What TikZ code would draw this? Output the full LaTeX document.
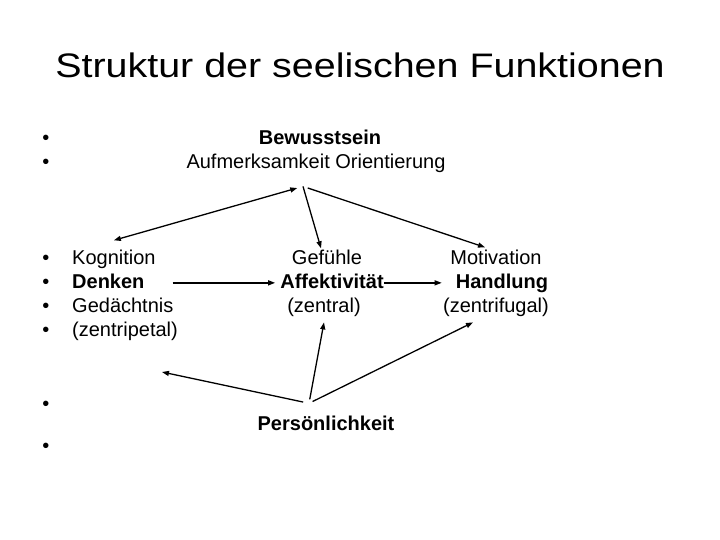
\documentclass[tikz,border=0pt]{standalone}
\usepackage{fontspec}
\setmainfont{Liberation Sans}
\usepackage{graphicx}
\usetikzlibrary{arrows.meta,positioning}
\tikzset{
  zeile/.style={inner sep=0pt, text height=14.5pt, text depth=4.2pt,
                anchor=base, font=\fontsize{20}{24}\selectfont},
  fett/.style={zeile, font=\fontsize{20}{24}\selectfont\bfseries},
  punkt/.style={zeile},
  pfeil/.style={-{Triangle[length=7pt,width=5pt]}, line width=1.3pt},
  doppelpfeil/.style={{Triangle[length=7pt,width=5pt]}-{Triangle[length=7pt,width=5pt]},
                      line width=1.3pt},
}

\begin{document}
\begin{tikzpicture}[x=1pt,y=-1pt]
  \useasboundingbox (0,0) rectangle (720,540);
  \node[anchor=base, inner sep=0pt, font=\fontsize{34}{40}\selectfont] (titel) at (360,78)
        {\scalebox{1.16}[1]{Struktur der seelischen Funktionen}};
  % Aufzaehlungspunkte
  \foreach \y/\n in {145/1,169/2,264/3,288/4,312/5,336/6,410/7,452/8}
    \node[punkt] (p\n) at (46,\y) {•};
  % oben
  \node[fett] (bewusst) at (320,145) {Bewusstsein};
  \node[zeile] (aufm) at (316,169) {Aufmerksamkeit Orientierung};
  % links
  \node[zeile, anchor=base west] (kogn) at (72,264) {Kognition};
  \node[fett, anchor=base west] (denk) at (72,288) {Denken};
  \node[zeile, anchor=base west] (gedae) at (72,312) {Gedächtnis};
  \node[zeile, anchor=base west] (zpetal) at (72,336) {(zentripetal)};
  % mitte
  \node[zeile] (gef) at (327,264) {Gefühle};
  \node[fett] (affekt) at (332,288) {Affektivität};
  \node[zeile] (zentral) at (324,312) {(zentral)};
  % rechts
  \node[zeile] (motiv) at (496,264) {Motivation};
  \node[fett] (handl) at (502,288) {Handlung};
  \node[zeile] (zfugal) at (496,312) {(zentrifugal)};
  % unten
  \node[fett] (pers) at (326,430) {Persönlichkeit};

  \coordinate (oben) at ([xshift=-13pt,yshift=-13pt]aufm.south);
  \coordinate (unten) at ([xshift=-17pt,yshift=12pt]pers.north);
  \coordinate (links) at (162,372);

  \draw[doppelpfeil, shorten <=6pt] (oben) -- ([yshift=9pt]kogn.north);
  \draw[pfeil] (oben) -- ([xshift=-6pt,yshift=1pt]gef.north);
  \draw[pfeil, shorten <=5pt] (oben) -- ([xshift=-11pt,yshift=2pt]motiv.north);
  \draw[pfeil, shorten <=28pt, shorten >=5pt] (denk.east) -- (affekt.west);
  \draw[pfeil, shorten >=14pt] (affekt.east) -- (handl.west);
  \draw[pfeil, shorten <=6pt] (unten) -- (links);
  \draw[pfeil, shorten <=4pt] (unten) -- ([yshift=-6pt]zentral.south);
  \draw[pfeil, shorten <=4pt] (unten) -- ([xshift=-23pt,yshift=-6pt]zfugal.south);
\end{tikzpicture}
\end{document}
